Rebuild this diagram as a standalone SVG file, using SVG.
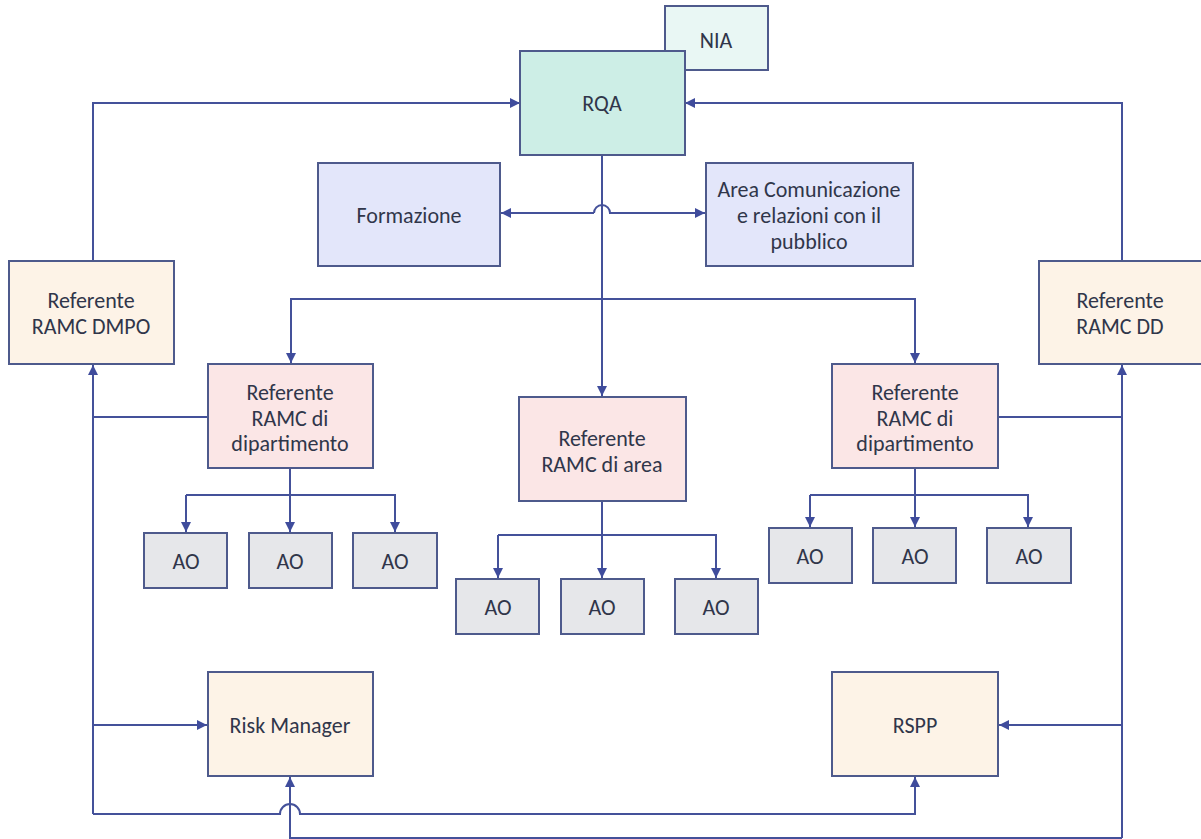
<svg xmlns="http://www.w3.org/2000/svg" width="1201" height="839" viewBox="0 0 1201 839">
<defs>
<marker id="ah" viewBox="0 0 10 10" refX="10" refY="5" markerWidth="10" markerHeight="10" markerUnits="userSpaceOnUse" orient="auto">
<path d="M0,0 L10,5 L0,10 z" fill="#3f4c9c"/>
</marker>
<style>
.box{stroke:#4e5a8c;stroke-width:2}
.t{font-family:Carlito,Lato,"Open Sans",sans-serif;font-size:22px;fill:#30364a;text-anchor:middle}
.c{fill:none;stroke:#44519a;stroke-width:2}
.a{marker-end:url(#ah)}
.rqa{fill:#cdeee6}
.nia{fill:#e9f7f4}
.blu{fill:#e3e6fa}
.org{fill:#fdf3e7}
.pnk{fill:#fbe6e6}
.ao{fill:#e6e7ea}
</style>
</defs>
<rect width="1201" height="839" fill="#ffffff"/>
<g id="connectors">
<path class="c a" d="M93,261 V103 H520"/>
<path class="c a" d="M1122,261 V103 H685"/>
<path class="c a" d="M602,155 V396"/>
<path class="c a" d="M594,213 H501"/>
<path class="c a" d="M594,213 A8,8 0 0 1 610,213 H705"/>
<path class="c a" d="M602,299 H291 V363"/>
<path class="c a" d="M602,299 H915 V363"/>
<path class="c a" d="M93,814 V365"/>
<path class="c" d="M208,417 H93"/>
<path class="c a" d="M93,725 H207"/>
<path class="c a" d="M1122,838 V365"/>
<path class="c" d="M998,417 H1122"/>
<path class="c a" d="M1122,725 H999"/>
<path class="c a" d="M93,814 H280 A10,10 0 0 1 300,814 H915 V777"/>
<path class="c a" d="M1122,838 H290 V777"/>
<path class="c" d="M290,468 V495"/>
<path class="c a" d="M186,495 H395 V532"/>
<path class="c a" d="M186,495 V532"/>
<path class="c a" d="M290,495 V532"/>
<path class="c" d="M602,501 V535"/>
<path class="c a" d="M498,535 H716 V578"/>
<path class="c a" d="M498,535 V578"/>
<path class="c a" d="M602,535 V578"/>
<path class="c" d="M915,468 V495"/>
<path class="c a" d="M810,495 H1028 V527"/>
<path class="c a" d="M810,495 V527"/>
<path class="c a" d="M915,495 V527"/>
</g>
<g id="nia"><rect class="box nia" x="665" y="6" width="103" height="64"/><text class="t" x="716" y="48">NIA</text></g>
<g id="rqa"><rect class="box rqa" x="520" y="51" width="165" height="104"/><text class="t" x="602" y="111">RQA</text></g>
<g id="formazione"><rect class="box blu" x="318" y="163" width="182" height="103"/><text class="t" x="409" y="223">Formazione</text></g>
<g id="area-comunicazione"><rect class="box blu" x="706" y="163" width="207" height="103"/><text class="t" x="809" y="197">Area Comunicazione</text><text class="t" x="809" y="223">e relazioni con il</text><text class="t" x="809" y="249">pubblico</text></g>
<g id="ref-dmpo"><rect class="box org" x="9" y="261" width="165" height="103"/><text class="t" x="91" y="308">Referente</text><text class="t" x="91" y="334">RAMC DMPO</text></g>
<g id="ref-dd"><rect class="box org" x="1039" y="261" width="170" height="103"/><text class="t" x="1120" y="308">Referente</text><text class="t" x="1120" y="334">RAMC DD</text></g>
<g id="ref-dip-left"><rect class="box pnk" x="208" y="364" width="165" height="104"/><text class="t" x="290" y="400">Referente</text><text class="t" x="290" y="426">RAMC di</text><text class="t" x="290" y="451">dipartimento</text></g>
<g id="ref-area"><rect class="box pnk" x="519" y="397" width="167" height="104"/><text class="t" x="602" y="446">Referente</text><text class="t" x="602" y="472">RAMC di area</text></g>
<g id="ref-dip-right"><rect class="box pnk" x="832" y="364" width="166" height="104"/><text class="t" x="915" y="400">Referente</text><text class="t" x="915" y="426">RAMC di</text><text class="t" x="915" y="451">dipartimento</text></g>
<g id="ao-l1"><rect class="box ao" x="144" y="533" width="83" height="55"/><text class="t" x="186" y="569">AO</text></g>
<g id="ao-l2"><rect class="box ao" x="249" y="533" width="83" height="55"/><text class="t" x="290" y="569">AO</text></g>
<g id="ao-l3"><rect class="box ao" x="353" y="533" width="84" height="55"/><text class="t" x="395" y="569">AO</text></g>
<g id="ao-c1"><rect class="box ao" x="456" y="579" width="83" height="55"/><text class="t" x="498" y="615">AO</text></g>
<g id="ao-c2"><rect class="box ao" x="561" y="579" width="83" height="55"/><text class="t" x="602" y="615">AO</text></g>
<g id="ao-c3"><rect class="box ao" x="675" y="579" width="83" height="55"/><text class="t" x="716" y="615">AO</text></g>
<g id="ao-r1"><rect class="box ao" x="769" y="528" width="83" height="55"/><text class="t" x="810" y="564">AO</text></g>
<g id="ao-r2"><rect class="box ao" x="873" y="528" width="83" height="55"/><text class="t" x="915" y="564">AO</text></g>
<g id="ao-r3"><rect class="box ao" x="987" y="528" width="84" height="55"/><text class="t" x="1029" y="564">AO</text></g>
<g id="risk-manager"><rect class="box org" x="208" y="672" width="165" height="104"/><text class="t" x="290" y="733">Risk Manager</text></g>
<g id="rspp"><rect class="box org" x="832" y="672" width="166" height="104"/><text class="t" x="915" y="733">RSPP</text></g>
</svg>
